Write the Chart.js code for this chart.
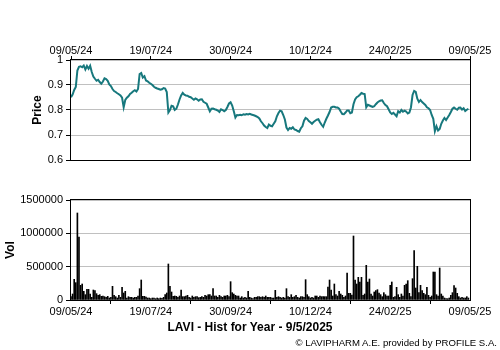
<!DOCTYPE html>
<html>
<head>
<meta charset="utf-8">
<script src="https://cdn.jsdelivr.net/npm/chart.js@4/dist/chart.umd.min.js"></script>
<style>
  html, body { margin: 0; padding: 0; background: #fff; }
  #wrap { position: relative; width: 500px; height: 350px; overflow: hidden; }
  #wrap canvas { position: absolute; left: 0; }
  #priceCanvas { top: 0; }
  #volCanvas { top: 175px; }
  .caption { position: absolute; font-family: "Liberation Sans", Arial, sans-serif; color: #000; white-space: nowrap; }
  #title { left: 0; width: 500px; text-align: center; top: 320px; font-size: 12px; font-weight: bold; line-height: 14px; }
  #credit { right: 3px; top: 337px; font-size: 9.6px; line-height: 12px; }
</style>
</head>
<body>
<div id="wrap">
  <canvas id="priceCanvas" width="500" height="175"></canvas>
  <canvas id="volCanvas" width="500" height="175"></canvas>
  <div id="title" class="caption">LAVI - Hist for Year - 9/5/2025</div>
  <div id="credit" class="caption">© LAVIPHARM A.E. provided by PROFILE S.A.</div>
</div>
<script>
// Date labels shown on the session axis, one every 50 sessions
const dateTicks = ['09/05/24', '19/07/24', '30/09/24', '10/12/24', '24/02/25', '09/05/25'];
const sessionsPerTick = 50;

// Daily closing price (EUR), one value per trading session
const closePrice = [
  0.851,0.862,0.880,0.892,0.958,0.973,0.975,0.971,0.978,0.962,
  0.976,0.965,0.977,0.952,0.934,0.925,0.917,0.921,0.912,0.905,
  0.914,0.927,0.924,0.917,0.902,0.896,0.884,0.876,0.872,0.867,
  0.863,0.858,0.849,0.811,0.840,0.849,0.855,0.864,0.869,0.875,
  0.879,0.874,0.884,0.944,0.948,0.930,0.935,0.918,0.915,0.909,
  0.905,0.900,0.893,0.889,0.886,0.884,0.881,0.883,0.888,0.886,
  0.872,0.790,0.800,0.817,0.815,0.800,0.805,0.822,0.842,0.858,
  0.868,0.861,0.858,0.857,0.853,0.851,0.846,0.841,0.846,0.843,
  0.837,0.842,0.843,0.833,0.829,0.825,0.810,0.795,0.805,0.806,
  0.803,0.801,0.798,0.792,0.803,0.800,0.795,0.800,0.812,0.826,
  0.831,0.818,0.795,0.770,0.780,0.779,0.781,0.779,0.783,0.781,
  0.784,0.782,0.785,0.782,0.780,0.778,0.775,0.772,0.766,0.755,
  0.747,0.738,0.732,0.728,0.742,0.737,0.735,0.745,0.755,0.775,
  0.788,0.797,0.795,0.780,0.762,0.730,0.720,0.728,0.725,0.731,
  0.722,0.720,0.716,0.713,0.727,0.735,0.757,0.768,0.764,0.756,
  0.751,0.745,0.752,0.757,0.761,0.763,0.751,0.741,0.733,0.750,
  0.765,0.778,0.792,0.810,0.813,0.813,0.810,0.810,0.805,0.794,
  0.784,0.783,0.790,0.798,0.798,0.787,0.790,0.823,0.842,0.851,
  0.855,0.861,0.868,0.865,0.864,0.811,0.821,0.818,0.815,0.812,
  0.815,0.823,0.830,0.835,0.838,0.839,0.828,0.820,0.815,0.803,
  0.790,0.784,0.789,0.782,0.775,0.795,0.790,0.800,0.793,0.797,
  0.794,0.786,0.790,0.810,0.860,0.876,0.872,0.845,0.832,0.840,
  0.832,0.826,0.820,0.811,0.807,0.800,0.780,0.765,0.715,0.735,
  0.718,0.724,0.745,0.758,0.768,0.760,0.770,0.780,0.792,0.805,
  0.810,0.805,0.801,0.809,0.810,0.802,0.807,0.796,0.801,0.805
];

// Daily traded volume (shares), one value per trading session
const dailyVolume = [
  50000,90000,310000,260000,1305000,945000,220000,240000,130000,80000,
  160000,160000,90000,40000,150000,140000,95000,70000,80000,55000,
  60000,50000,40000,55000,30000,40000,205000,70000,50000,30000,
  70000,40000,190000,105000,130000,30000,50000,40000,40000,30000,
  40000,40000,60000,170000,300000,55000,55000,45000,30000,30000,
  20000,30000,30000,20000,30000,20000,30000,25000,40000,80000,
  105000,540000,205000,120000,55000,60000,55000,40000,60000,150000,
  50000,50000,60000,70000,40000,30000,60000,40000,50000,50000,
  35000,40000,50000,40000,70000,60000,80000,80000,60000,170000,
  60000,60000,40000,70000,50000,40000,60000,60000,70000,50000,
  275000,110000,90000,70000,60000,60000,30000,50000,30000,40000,
  30000,130000,40000,30000,20000,40000,40000,50000,50000,40000,
  50000,40000,60000,40000,40000,40000,30000,30000,145000,40000,
  50000,40000,30000,40000,30000,170000,50000,40000,80000,40000,
  50000,70000,40000,30000,50000,50000,40000,305000,80000,50000,
  30000,40000,30000,60000,60000,40000,60000,50000,50000,50000,
  50000,195000,300000,150000,60000,240000,80000,60000,130000,90000,
  70000,40000,60000,405000,100000,100000,75000,960000,300000,240000,
  340000,270000,340000,70000,90000,520000,270000,315000,90000,60000,
  120000,140000,155000,105000,80000,50000,110000,80000,60000,60000,
  220000,270000,40000,50000,190000,80000,40000,90000,60000,220000,
  240000,290000,100000,50000,320000,740000,180000,505000,110000,220000,
  140000,100000,80000,190000,70000,40000,60000,420000,420000,80000,
  60000,480000,90000,60000,30000,20000,20000,30000,70000,110000,
  215000,180000,100000,50000,30000,40000,30000,30000,50000,30000
];

const FONT = 'Liberation Sans, Arial, sans-serif';
const lastSession = sessionsPerTick * (dateTicks.length - 1);

// Black frame around the plotting area
const framePlugin = {
  id: 'frame',
  afterDraw(chart) {
    const { ctx, chartArea: a } = chart;
    ctx.save();
    ctx.strokeStyle = '#000';
    ctx.lineWidth = 1;
    ctx.strokeRect(a.left - 0.5, a.top - 0.5, a.right - a.left + 1, a.bottom - a.top + 1);
    ctx.restore();
  }
};

function sessionAxis(position, labelPadding) {
  return {
    type: 'linear',
    position: position,
    min: 0,
    max: lastSession,
    offset: false,
    grid: { display: true, drawOnChartArea: false, drawTicks: true, tickLength: 4, tickColor: '#000' },
    border: { display: false },
    ticks: {
      stepSize: sessionsPerTick,
      autoSkip: false,
      maxRotation: 0,
      padding: labelPadding,
      color: '#000',
      font: { family: FONT, size: 11 },
      callback: v => dateTicks[Math.round(v / sessionsPerTick)]
    }
  };
}

Chart.defaults.animation = false;

// Price line
new Chart(document.getElementById('priceCanvas'), {
  type: 'line',
  data: {
    datasets: [{
      data: closePrice.map((p, i) => ({ x: i, y: p })),
      borderColor: '#17787d',
      borderWidth: 2,
      pointRadius: 0,
      tension: 0,
      fill: false
    }]
  },
  options: {
    responsive: false,
    animation: false,
    layout: { padding: { top: 0, right: 30, bottom: 15, left: 0 } },
    plugins: { legend: { display: false }, tooltip: { enabled: false } },
    scales: {
      x: Object.assign(sessionAxis('top', -2), { afterFit: s => { s.height = 60; } }),
      y: {
        min: 0.6,
        max: 1,
        grid: { color: '#c0c0c0', lineWidth: 1, tickLength: 5, tickColor: '#000' },
        border: { display: false },
        ticks: {
          stepSize: 0.1,
          padding: 3,
          color: '#000',
          font: { family: FONT, size: 11 },
          callback: v => String(Number(v.toFixed(1)))
        },
        title: {
          display: true,
          text: 'Price',
          color: '#000',
          font: { family: FONT, size: 12, weight: 'bold' },
          padding: { top: 30, bottom: 0 }
        },
        afterFit: s => { s.width = 71; }
      }
    }
  },
  plugins: [framePlugin]
});

// Volume bars
new Chart(document.getElementById('volCanvas'), {
  type: 'bar',
  data: {
    datasets: [{
      data: dailyVolume.map((v, i) => ({ x: i, y: v })),
      backgroundColor: '#000',
      borderWidth: 0,
      barThickness: 1
    }]
  },
  options: {
    responsive: false,
    animation: false,
    layout: { padding: { top: 25, right: 30, bottom: 0, left: 0 } },
    plugins: { legend: { display: false }, tooltip: { enabled: false } },
    scales: {
      x: Object.assign(sessionAxis('bottom', 1), { afterFit: s => { s.height = 50; } }),
      y: {
        min: 0,
        max: 1500000,
        grid: { color: '#c0c0c0', lineWidth: 1, tickLength: 5, tickColor: '#000' },
        border: { display: false },
        ticks: {
          stepSize: 500000,
          padding: 3,
          color: '#000',
          font: { family: FONT, size: 11 },
          callback: v => String(v)
        },
        title: {
          display: true,
          text: 'Vol',
          color: '#000',
          font: { family: FONT, size: 12, weight: 'bold' },
          padding: { top: 3, bottom: 0 }
        },
        afterFit: s => { s.width = 71; }
      }
    }
  },
  plugins: [framePlugin]
});
</script>
</body>
</html>
